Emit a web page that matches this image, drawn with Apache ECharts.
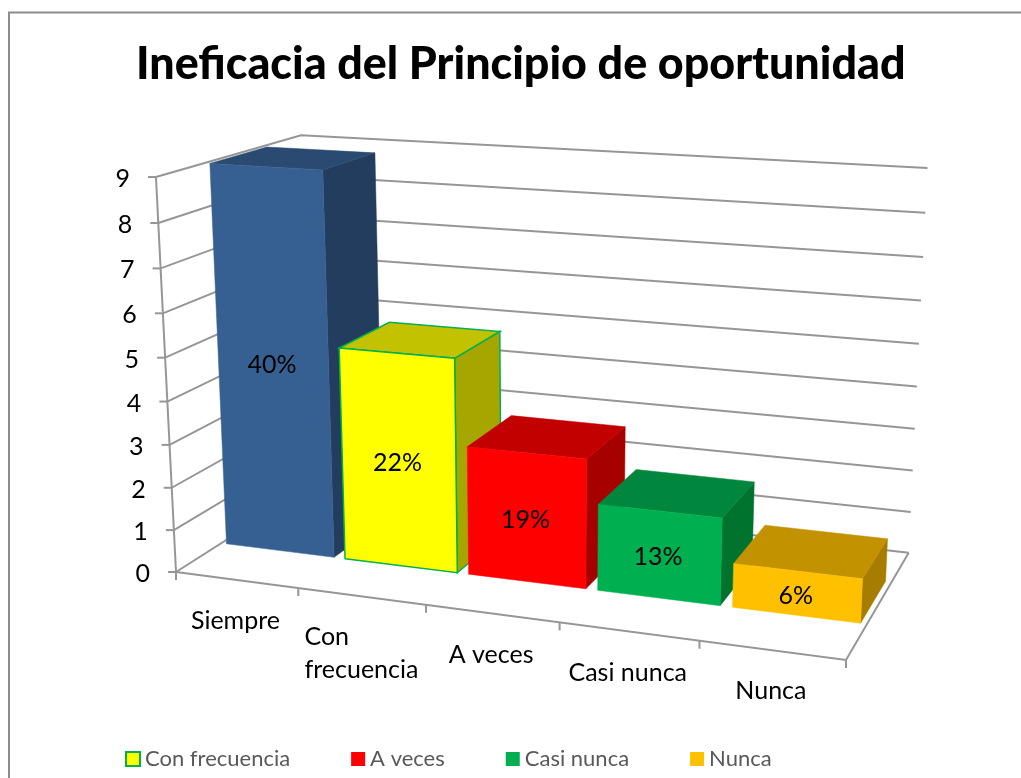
<!DOCTYPE html>
<html>
<head>
    <meta charset="utf-8">
    <title>Ineficacia del Principio de oportunidad</title>
    <script src="https://cdn.jsdelivr.net/npm/echarts@6/dist/echarts.min.js"></script>
    <style>
        html, body { margin: 0; padding: 0; background: #fff; }
    </style>
</head>
<body>
    <div id="main" style="width: 1021px;height:778px;"></div>
    <script type="text/javascript">
        var categories = ['Siempre', 'Con\nfrecuencia', 'A veces', 'Casi nunca', 'Nunca'];
        var legendNames = ['Con frecuencia', 'A veces', 'Casi nunca', 'Nunca'];
        var seriesNames = ['Siempre', 'Con frecuencia', 'A veces', 'Casi nunca', 'Nunca'];
        var values = [9, 5, 3, 2, 1];
        var percentLabels = ['40%', '22%', '19%', '13%', '6%'];
        var yTicks = [0, 1, 2, 3, 4, 5, 6, 7, 8, 9];

        // front, top and side colours of each bar
        var frontColors = ['#376092', '#FFFF00', '#FF0000', '#00B050', '#FFC000'];
        var topColors = ['#2B4A71', '#C2C200', '#C20000', '#00863D', '#C29200'];
        var sideColors = ['#233D5E', '#A6A600', '#A60000', '#00732F', '#A67D00'];
        var edgeColors = [null, '#00B050', null, null, null];

        var lineColor = '#969696';
        var textFont = 'Lato';

        // perspective of the plot box: u along categories, v up the values, d into the depth (all 0..1)
        function project(u, v, d) {
            var w = 1 - 0.107 * u - 0.051 * v + 0.1345 * d;
            return [
                (176 + 579.5 * u - 28 * v + 178.2 * d) / w,
                (572 + 17.4 * u - 404 * v - 21.4 * d) / w
            ];
        }

        // depth of the bars and share of the category band they fill
        var barFront = 0.305, barBack = 0.70, barFill = 0.91;

        function toUnit(params, api, cat, val) {
            var p = api.coord([cat, val]);
            var cs = params.coordSys;
            return [(p[0] - cs.x) / cs.width, 1 - (p[1] - cs.y) / cs.height];
        }

        function face(points, fill, edge) {
            return {
                type: 'polygon',
                shape: { points: points },
                style: { fill: fill, stroke: edge || fill, lineWidth: edge ? 1.5 : 0.5 }
            };
        }

        function line(points) {
            return {
                type: 'polyline',
                shape: { points: points },
                style: { fill: 'none', stroke: lineColor, lineWidth: 2 }
            };
        }

        function renderTick(params, api) {
            var val = api.value(1);
            var v = toUnit(params, api, 0, val)[1];
            var a = project(0, v, 0);
            var kids = [
                line([a, project(0, v, 1), project(1, v, 1)]),
                line([[a[0] - 8, a[1]], a])
            ];
            if (val === 0) {
                kids.push(line([a, project(1, 0, 0), project(1, 0, 1)]));
                kids.push(line([a, project(0, 1, 0)]));
            }
            kids.push({
                type: 'text',
                style: {
                    text: String(val), x: a[0] - 26, y: a[1] + 2,
                    align: 'right', verticalAlign: 'middle',
                    font: '25px ' + textFont, fill: '#000'
                }
            });
            return { type: 'group', children: kids };
        }

        function renderCategory(params, api) {
            var i = api.value(0);
            var mid = toUnit(params, api, i, 0)[0];
            var half = (api.size([1, 0])[0] / params.coordSys.width) / 2;
            var kids = [];
            var tick = project(mid + half, 0, 0);
            kids.push(line([tick, [tick[0], tick[1] + 8]]));
            if (i === 0) {
                var first = project(mid - half, 0, 0);
                kids.push(line([first, [first[0], first[1] + 8]]));
            }
            var c = project(mid, 0, 0);
            var rows = categories[i].split('\n');
            rows.forEach(function (row, k) {
                kids.push({
                    type: 'text',
                    style: {
                        text: row, x: rows.length > 1 ? c[0] - 57 : c[0] - 1, y: c[1] + 41 + k * 33,
                        align: rows.length > 1 ? 'left' : 'center', verticalAlign: 'middle',
                        font: '25px ' + textFont, fill: '#000'
                    }
                });
            });
            return { type: 'group', children: kids };
        }

        function renderBar(params, api) {
            var i = api.value(0);
            var p = toUnit(params, api, i, api.value(1));
            var half = (api.size([1, 0])[0] / params.coordSys.width) * barFill / 2;
            var u0 = p[0] - half, u1 = p[0] + half, v = p[1];
            var edge = edgeColors[i];
            var mid = project(p[0], v * 0.505, barFront);
            return {
                type: 'group',
                children: [
                    face([project(u1, 0, barFront), project(u1, 0, barBack), project(u1, v, barBack), project(u1, v, barFront)], sideColors[i], edge),
                    face([project(u0, v, barFront), project(u1, v, barFront), project(u1, v, barBack), project(u0, v, barBack)], topColors[i], edge),
                    face([project(u0, 0, barFront), project(u1, 0, barFront), project(u1, v, barFront), project(u0, v, barFront)], frontColors[i], edge),
                    {
                        type: 'text',
                        style: {
                            text: percentLabels[i], x: mid[0] - 1, y: mid[1] + 3,
                            align: 'center', verticalAlign: 'middle',
                            font: '25px ' + textFont, fill: '#000'
                        }
                    }
                ]
            };
        }

        var option = {
            animation: false,
            backgroundColor: '#fff',
            title: {
                text: 'Ineficacia del Principio de oportunidad',
                left: 131,
                top: 37,
                textStyle: { fontFamily: textFont, fontWeight: 900, fontSize: 44.8, color: '#000' }
            },
            legend: {
                data: legendNames,
                icon: 'rect',
                left: 125,
                top: 748,
                padding: 0,
                itemWidth: 14,
                itemHeight: 14,
                itemGap: 61,
                selectedMode: false,
                textStyle: { fontFamily: textFont, fontSize: 22, color: '#595959' }
            },
            grid: { left: 176, top: 177, width: 670, height: 395, show: false },
            xAxis: { type: 'category', data: categories, show: false },
            yAxis: { type: 'value', min: 0, max: 9, interval: 1, show: false },
            graphic: [{
                type: 'polyline',
                shape: { points: [[9, 778], [9, 12.5], [1021, 12.5]] },
                style: { fill: 'none', stroke: '#8C8C8C', lineWidth: 2 },
                silent: true
            }],
            series: [
                {
                    type: 'custom', name: 'ticks', silent: true, clip: false,
                    renderItem: renderTick,
                    data: yTicks.map(function (t) { return [0, t]; })
                },
                {
                    type: 'custom', name: 'cats', silent: true, clip: false,
                    renderItem: renderCategory,
                    data: categories.map(function (c, i) { return [i, 0]; })
                }
            ]
        };

        // one series per bar so the legend can pick up each colour
        values.forEach(function (val, i) {
            option.series.push({
                type: 'custom',
                name: seriesNames[i],
                silent: true,
                clip: false,
                renderItem: renderBar,
                itemStyle: { color: frontColors[i], borderColor: edgeColors[i] || frontColors[i], borderWidth: edgeColors[i] ? 1.5 : 0 },
                data: [[i, val]]
            });
        });

        var myChart = echarts.init(document.getElementById('main'));
        myChart.setOption(option);
    </script>
</body>
</html>
